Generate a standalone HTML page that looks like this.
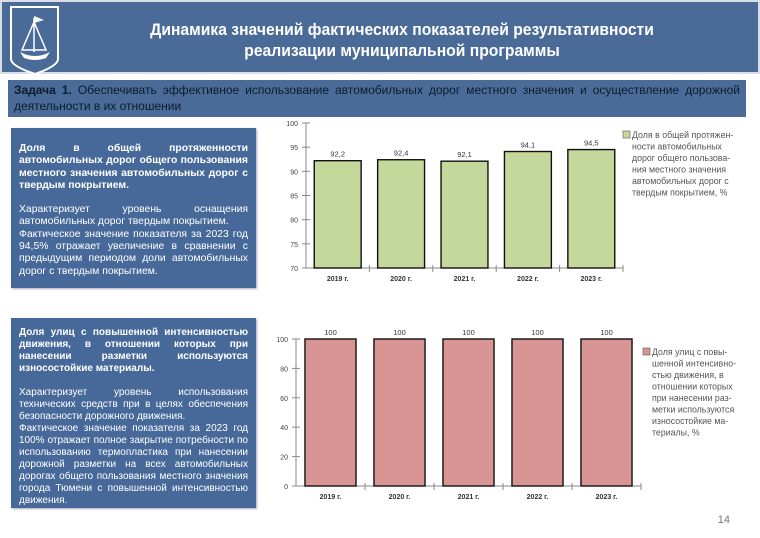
<!DOCTYPE html>
<html><head><meta charset="utf-8"><style>
*{margin:0;padding:0;box-sizing:border-box}
body{width:760px;height:538px;background:#fff;position:relative;overflow:hidden;font-family:"Liberation Sans",sans-serif}
.hdr{position:absolute;left:0;top:0;width:760px;height:74px;background:#4a6b98;border:2px solid #d8dde6}
.title{position:absolute;left:60px;width:680px;top:18px;text-align:center;color:#fff;font-weight:bold;font-size:16.5px;line-height:21px;transform:scaleX(0.95)}
.task{position:absolute;left:8px;top:80px;width:738px;height:37px;background:#4a6b98;color:#0d1b2e;font-size:12px;line-height:16px;padding:2px 6px;text-align:justify}
.box{position:absolute;left:11px;width:245px;background:#46699a;color:#fff;font-size:10.4px;line-height:12.3px;padding:15px 8px 6px 8px;text-align:justify;box-shadow:1px 1px 2px #aab}
.box b{display:block}
.box p{margin-top:12px}
svg{position:absolute;left:0;top:0}
.num{position:absolute;right:30px;top:514px;color:#777;font-size:11px}
</style></head><body>
<div class="hdr">
<svg width="60" height="74" style="left:6px;top:2px">
<path d="M3 3 H50 V55 Q50 62 27 70 Q3 62 3 55 Z" fill="#4a6b98" stroke="#fff" stroke-width="2"/>
<path d="M12 48 Q27 56 42 48 L38 54 Q27 58 16 54Z" fill="#fff"/>
<path d="M26 14 V48 M26 18 L14 46 H38Z" stroke="#fff" fill="none" stroke-width="1.5"/>
<path d="M26 12 L36 16 L26 19Z" fill="#fff"/>
</svg>
<div class="title">Динамика значений фактических показателей результативности<br>реализации муниципальной программы</div>
</div>
<div class="task"><b>Задача 1.</b> Обеспечивать эффективное использование автомобильных дорог местного значения и осуществление дорожной деятельности в их отношении</div>
<div class="box" style="top:128px;height:160px"><b>Доля в общей протяженности автомобильных дорог общего пользования местного значения автомобильных дорог с твердым покрытием.</b><p>Характеризует уровень оснащения автомобильных дорог твердым покрытием.<br>Фактическое значение показателя за 2023 год 94,5% отражает увеличение в сравнении с предыдущим периодом доли автомобильных дорог с твердым покрытием.</p></div>
<div class="box" style="top:318px;height:190px;padding-top:9px;font-size:10px;line-height:12px"><b>Доля улиц с повышенной интенсивностью движения, в отношении которых при нанесении разметки используются износостойкие материалы.</b><p>Характеризует уровень использования технических средств при в целях обеспечения безопасности дорожного движения.<br>Фактическое значение показателя за 2023 год 100% отражает полное закрытие потребности по использованию термопластика при нанесении дорожной разметки на всех автомобильных дорогах общего пользования местного значения города Тюмени с повышенной интенсивностью движения.</p></div>
<svg id="c" width="760" height="538"></svg>
<div class="num">14</div>
<script>
const categories=["2019 г.","2020 г.","2021 г.","2022 г.","2023 г."];
const values1=[92.2,92.4,92.1,94.1,94.5];
const labels1=["92,2","92,4","92,1","94,1","94,5"];
const ticks1=[70,75,80,85,90,95,100];
const values2=[100,100,100,100,100];
const labels2=["100","100","100","100","100"];
const ticks2=[0,20,40,60,80,100];
const svg=document.getElementById('c');
const NS="http://www.w3.org/2000/svg";
function mk(t,a,txt){const e=document.createElementNS(NS,t);for(const k in a)e.setAttribute(k,a[k]);if(txt!=null)e.textContent=txt;svg.appendChild(e);return e;}
function chart(o){
 const y=v=>o.y1-(v-o.min)/(o.max-o.min)*(o.y1-o.y0);
 const cw=(o.x1-o.x0)/categories.length;
 let ax=mk('line',{x1:o.x0,y1:o.y0,x2:o.x0,y2:o.y1,stroke:'#888'});
 
 let bx=mk('line',{x1:o.x0,y1:o.y1,x2:o.x1,y2:o.y1,stroke:'#888'});
 
 o.ticks.forEach(t=>{mk('line',{x1:o.x0-4,x2:o.x0+4,y1:y(t),y2:y(t),stroke:'#888'});
  let l=mk('text',{x:o.x0-8,y:y(t)+3,'text-anchor':'end','font-size':7,fill:'#444'},t);
  });
 categories.forEach((c,i)=>{
  const cx=o.x0+cw*(i+0.5),bw=cw*0.74,v=o.vals[i];
  mk('line',{x1:o.x0+cw*(i+1),x2:o.x0+cw*(i+1),y1:o.y1-3,y2:o.y1+4,stroke:'#888'});
  let r=mk('rect',{x:cx-bw/2,y:y(v),width:bw,height:o.y1-y(v),fill:o.fill,stroke:'#111','stroke-width':1.4});
  
  let t=mk('text',{x:cx,y:y(v)-4,'text-anchor':'middle','font-size':7.5,fill:'#333'},o.labels[i]);
  
  let xl=mk('text',{x:cx,y:o.y1+13,'text-anchor':'middle','font-size':7,'font-weight':'bold',fill:'#333'},c);
  
 });
 let sw=mk('rect',{x:o.lx,y:o.ly-7,width:7,height:7,fill:o.fill,stroke:'#555','stroke-width':0.6});
 
 o.leg.forEach((s,i)=>{let t=mk('text',{x:o.lx+9,y:o.ly+i*11.5,'font-size':8.8,fill:'#555'},s);
  });
}
chart({n:'chart1',x0:306,x1:623,y0:123,y1:268,min:70,max:100,ticks:ticks1,vals:values1,labels:labels1,fill:'#c4d89c',lx:623,ly:138,
 leg:["Доля в общей протяжен-","ности автомобильных","дорог общего пользова-","ния местного значения","автомобильных дорог с","твердым покрытием, %"]});
chart({n:'chart2',x0:296,x1:641,y0:339,y1:486,min:0,max:100,ticks:ticks2,vals:values2,labels:labels2,fill:'#d99594',lx:643,ly:355,
 leg:["Доля улиц с повы-","шенной интенсивно-","стью движения, в","отношении которых","при нанесении раз-","метки используются","износостойкие ма-","териалы, %"]});
</script>
</body></html>
